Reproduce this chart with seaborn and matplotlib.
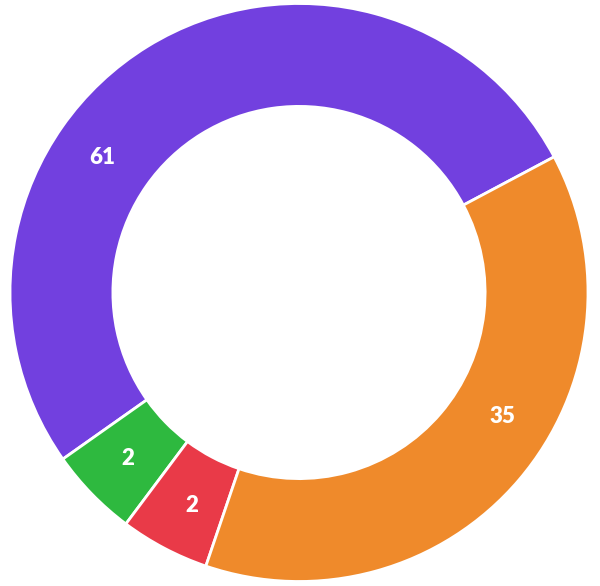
import numpy as np
import seaborn as sns
import matplotlib
matplotlib.use('Agg')
import matplotlib.pyplot as plt

# Slice data (counter-clockwise from the top-right boundary)
categories = ['Purple', 'Green', 'Red', 'Orange']
label_values = [61, 2, 2, 35]
# share of the ring each slice takes in the picture (percent)
slice_share = [52.0, 5.0, 5.0, 38.0]
colors = ['#7240DF', '#2EB93F', '#E93A48', '#EF8A2B']

sns.set_theme(style='white')
plt.rcParams['font.family'] = ['Lato', 'DejaVu Sans']

fig = plt.figure(figsize=(6, 5.86), dpi=100)
ax = fig.add_axes([0, 0, 1, 1])

palette = sns.color_palette(colors)
start = 28
wedges, _ = ax.pie(slice_share, colors=palette, startangle=start, counterclock=True,
                   radius=1.0, wedgeprops=dict(width=0.356, edgecolor='white', linewidth=2))

# label angles: wedge middle plus a small nudge (big slices' labels sit off-centre)
nudge = [24, 0, 1, 9]
for w, val, dn in zip(wedges, label_values, nudge):
    ang = np.deg2rad((w.theta1 + w.theta2) / 2 + dn)
    r = 0.825
    ax.text(r * np.cos(ang), r * np.sin(ang), str(val), color='white',
            fontsize=16, fontweight='heavy', ha='center', va='center')

ax.set_xlim(-299 / 289, 301 / 289)
ax.set_ylim(-293.5 / 289, 292.5 / 289)
ax.set_aspect('equal')
ax.axis('off')

fig.savefig('out.png', dpi=100, facecolor='white')
